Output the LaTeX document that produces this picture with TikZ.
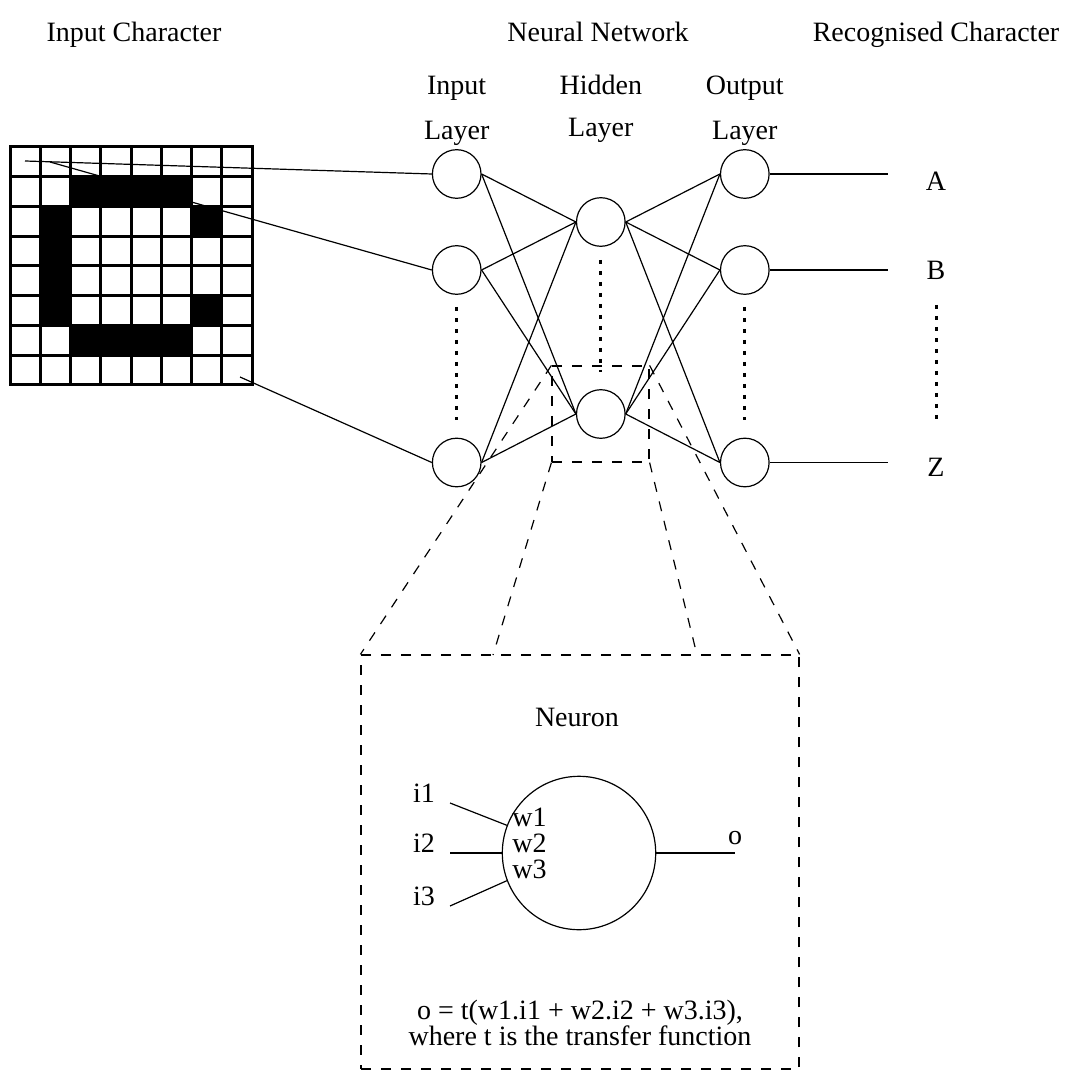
\documentclass[tikz,border=0pt]{standalone}
\usepackage{fontspec}
\setmainfont{Liberation Serif}
\begin{document}
\begin{tikzpicture}[x=0.5pt,y=-0.5pt,
  lbl/.style={font=\fontsize{14}{16}\selectfont, inner sep=0pt, anchor=base},
  unit/.style={circle, draw, line width=0.6pt, minimum size=24.3pt, inner sep=0pt},
  link/.style={line width=0.6pt},
  gridline/.style={line width=1.5pt, line cap=rect},
  dots/.style={line width=1.5pt, dash pattern=on 1.8pt off 3.7pt},
  zoomline/.style={line width=0.6pt, dash pattern=on 5pt off 5pt},
  zoombox/.style={draw, rectangle, inner sep=0pt, line width=0.6pt, dash pattern=on 5pt off 5pt}]

\useasboundingbox[fill=white] (0,0) rectangle (1073,1074);

% ---------- headings ----------
\node[lbl] (hInChar)  at (134,42) {Input Character};
\node[lbl] (hNet)     at (598,42) {Neural Network};
\node[lbl] (hRecChar) at (936,42) {Recognised Character};

\node[lbl] (tIn)   at (456.7,95) {Input};
\node[lbl] (bIn)   at (456.7,140) {Layer};
\node[lbl] (tHid)  at (600.8,95) {Hidden};
\node[lbl] (bHid)  at (600.8,137) {Layer};
\node[lbl] (tOut)  at (744.8,95) {Output};
\node[lbl] (bOut)  at (744.8,140) {Layer};

% ---------- network units ----------
\node[unit] (in1)  at (456.7,174) {};
\node[unit] (in2)  at (456.7,270) {};
\node[unit] (in3)  at (456.7,462.5) {};
\node[unit] (hid1) at (600.8,222) {};
\node[unit] (hid2) at (600.8,414) {};
\node[unit] (out1) at (744.8,174) {};
\node[unit] (out2) at (744.8,270) {};
\node[unit] (out3) at (744.8,462.5) {};

\foreach \a in {in1,in2,in3}
  \foreach \b in {hid1,hid2}
    \draw[link] (\a.east) -- (\b.west);
\foreach \a in {hid1,hid2}
  \foreach \b in {out1,out2,out3}
    \draw[link] (\a.east) -- (\b.west);

% ellipsis marks between units
\draw[dots] (456.7,307) -- (456.7,420);
\draw[dots] (600.8,260) -- (600.8,372);
\draw[dots] (744.8,307) -- (744.8,420);
\draw[dots] (936,305) -- (936,420);

% ---------- outputs ----------
\coordinate (endA) at (888,174);
\coordinate (endB) at (888,270);
\coordinate (endZ) at (888,462.5);
\draw[link] (out1.east) -- (endA);
\draw[link] (out2.east) -- (endB);
\draw[link] (out3.east) -- (endZ);
\node[lbl] (labA) at (936,191) {A};
\node[lbl] (labB) at (936,280) {B};
\node[lbl] (labZ) at (936,476) {Z};

% ---------- input pixel grid ----------
\coordinate (px1) at (25,161);
\coordinate (px2) at (50,162);
\coordinate (px3) at (240,377);
\draw[link] (px1) -- (in1.west);
\draw[link] (px2) -- (in2.west);
\draw[link] (px3) -- (in3.west);

\foreach \c/\r in {2/1,3/1,4/1,5/1,1/2,6/2,1/3,1/4,1/5,6/5,2/6,3/6,4/6,5/6}
  \fill ({10+30.25*\c},{147+29.75*\r}) rectangle ++(30.25,29.75);
\foreach \i in {0,...,8} {
  \draw[gridline] ({10+30.25*\i},147) -- ({10+30.25*\i},385);
  \draw[gridline] (10,{147+29.75*\i}) -- (252,{147+29.75*\i});
}

% ---------- magnified neuron ----------
\node[zoombox, minimum width=48.5pt, minimum height=48pt] (zsmall) at (600.5,414) {};
\node[zoombox, minimum width=219pt, minimum height=207pt] (zbig) at (580,862) {};
\coordinate (zbl) at (493,655);
\coordinate (zbr) at (697,655);
\draw[zoomline] (zsmall.north west) -- (zbig.north west);
\draw[zoomline] (zsmall.south west) -- (zbl);
\draw[zoomline] (zsmall.south east) -- (zbr);
\draw[zoomline] (zsmall.north east) -- (zbig.north east);

\node[lbl] (tNeuron) at (577,726) {Neuron};
\node[circle, draw, line width=0.6pt, minimum size=76.7pt, inner sep=0pt] (neuron) at (579,853) {};

\coordinate (s1) at (450,803);
\coordinate (s2) at (450,853);
\coordinate (s3) at (450,906);
\coordinate (so) at (735,853);
\draw[link] (s1) -- (neuron.159);
\draw[link] (s2) -- (neuron.west);
\draw[link] (s3) -- (neuron.201);
\draw[link] (neuron.east) -- (so);

\node[lbl] (li1) at (424,802) {i1};
\node[lbl] (li2) at (424,852) {i2};
\node[lbl] (li3) at (424,905) {i3};
\node[lbl, anchor=base west] (lw1) at (512,826) {w1};
\node[lbl, anchor=base west] (lw2) at (512,852) {w2};
\node[lbl, anchor=base west] (lw3) at (512,878) {w3};
\node[lbl] (lo) at (735,844) {o};

\node[lbl] (f1) at (580,1019) {o = t(w1.i1 + w2.i2 + w3.i3),};
\node[lbl] (f2) at (580,1045) {where t is the transfer function};

\end{tikzpicture}
\end{document}
